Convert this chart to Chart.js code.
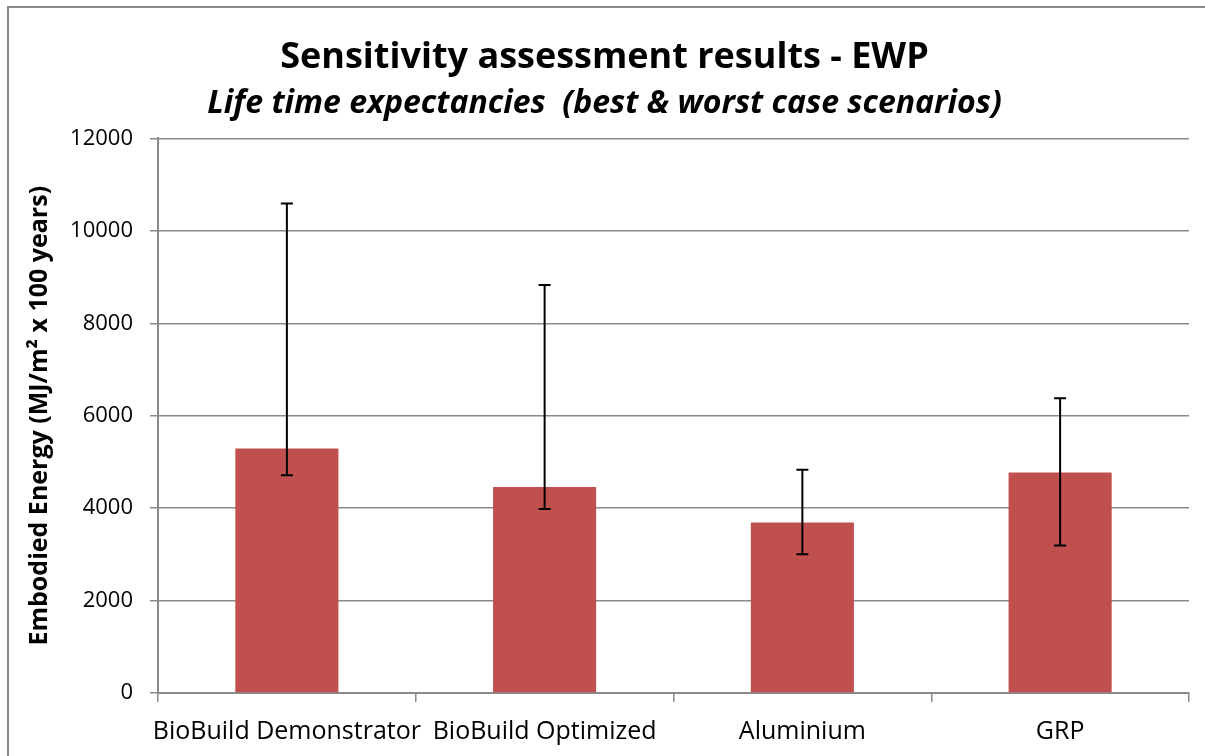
<!DOCTYPE html>
<html>
<head>
<meta charset="utf-8">
<script src="https://cdn.jsdelivr.net/npm/chart.js@4.4.1/dist/chart.umd.min.js"></script>
<style>
  html, body { margin: 0; padding: 0; background: #fff; }
  #wrap { position: relative; width: 1205px; height: 756px; overflow: hidden; }
  #frame { position: absolute; left: 7px; top: 6px; width: 1210px; height: 770px;
           border-left: 2px solid #8a8a8a; border-top: 2px solid #8a8a8a; pointer-events: none; }
</style>
</head>
<body>
<div id="wrap">
  <canvas id="c" width="1205" height="756"></canvas>
  <div id="frame"></div>
</div>
<script>
const categories = ["BioBuild Demonstrator", "BioBuild Optimized", "Aluminium", "GRP"];
const values = [5290, 4460, 3690, 4770];
const worstCase = [10590, 8830, 4830, 6380];
const bestCase = [4710, 3980, 3000, 3190];
const yTicks = [0, 2000, 4000, 6000, 8000, 10000, 12000];

const FONT = "'Open Sans', Carlito, sans-serif";

const errorBars = {
  id: 'errorBars',
  afterDatasetsDraw(chart) {
    const ctx = chart.ctx;
    const meta = chart.getDatasetMeta(0);
    const ys = chart.scales.y;
    ctx.save();
    ctx.strokeStyle = '#000';
    ctx.lineWidth = 2;
    meta.data.forEach((bar, i) => {
      const x = bar.x;
      const yH = ys.getPixelForValue(worstCase[i]);
      const yL = ys.getPixelForValue(bestCase[i]);
      ctx.beginPath();
      ctx.moveTo(x, yH); ctx.lineTo(x, yL);
      ctx.moveTo(x - 6, yH); ctx.lineTo(x + 6, yH);
      ctx.moveTo(x - 6, yL); ctx.lineTo(x + 6, yL);
      ctx.stroke();
    });
    ctx.restore();
  }
};

new Chart(document.getElementById('c'), {
  type: 'bar',
  data: {
    labels: categories,
    datasets: [{
      data: values,
      backgroundColor: '#C0504D',
      borderWidth: 0,
      categoryPercentage: 0.8,
      barPercentage: 0.5
    }]
  },
  options: {
    responsive: false,
    animation: false,
    devicePixelRatio: 1,
    layout: { padding: { left: 20, right: 16, top: 0, bottom: 0 } },
    plugins: {
      legend: { display: false },
      tooltip: { enabled: false },
      title: {
        display: true,
        text: 'Sensitivity assessment results - EWP',
        color: '#000',
        font: { family: FONT, size: 36, weight: 'bold', lineHeight: 1.067 },
        padding: { top: 39, bottom: 1 }
      },
      subtitle: {
        display: true,
        text: 'Life time expectancies  (best & worst case scenarios)',
        color: '#000',
        font: { family: FONT, size: 32, weight: 'bold', style: 'italic', lineHeight: 1.0 },
        padding: { top: 9, bottom: 19 }
      }
    },
    scales: {
      x: {
        grid: { display: true, drawOnChartArea: false, drawTicks: true, tickLength: 9,
                color: '#8a8a8a', lineWidth: 1.5, offset: true },
        border: { display: true, color: '#8a8a8a', width: 2 },
        ticks: { color: '#000', font: { family: FONT, size: 25 }, padding: 15,
                 maxRotation: 0, autoSkip: false },
        afterFit(scale) { scale.height = 63; }
      },
      y: {
        min: 0, max: 12000,
        afterBuildTicks(scale) { scale.ticks = yTicks.map(v => ({ value: v })); },
        grid: { color: '#8a8a8a', lineWidth: 1.5, drawTicks: true, tickLength: 8 },
        border: { display: true, color: '#8a8a8a', width: 2 },
        ticks: { color: '#000', font: { family: FONT, size: 22 }, padding: 17,
                 callback: (v) => String(v) },
        title: {
          display: true,
          text: 'Embodied Energy (MJ/m² x 100 years)',
          color: '#000',
          font: { family: FONT, size: 25, weight: 'bold', lineHeight: 1.2 },
          padding: { top: 5, bottom: 0 }
        },
        afterFit(scale) { scale.width = 138; }
      }
    }
  },
  plugins: [errorBars]
});
</script>
</body>
</html>
